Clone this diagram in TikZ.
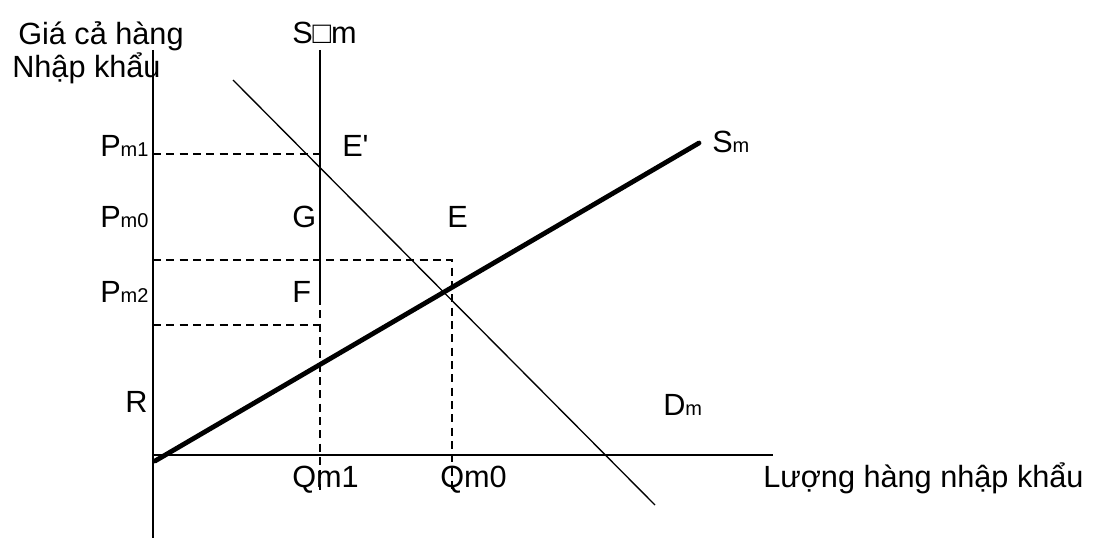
\documentclass[tikz,border=0pt]{standalone}
\usepackage{fontspec}
\setmainfont{Liberation Sans}
\newfontfamily\plainf{Liberation Sans}
\begin{document}
\begin{tikzpicture}[x=0.75pt,y=-0.75pt,
  axis/.style={line width=1.5pt},
  guide/.style={line width=1.4pt, dash pattern=on 6pt off 4pt},
  demand/.style={line width=1pt},
  supply/.style={line width=3.6pt, line cap=round},
  lbl/.style={inner sep=0pt, anchor=base west, font=\plainf\fontsize{23}{27}\selectfont}]
\newcommand{\sbs}[1]{{\fontsize{15}{17}\selectfont #1}}
\useasboundingbox (0,0) rectangle (1105,538);
% coordinates
\coordinate (ytop) at (153,50);
\coordinate (ybot) at (153,538);
\coordinate (xst) at (153,455);
\coordinate (xend) at (773,455);
\coordinate (svtop) at (320,50);
\coordinate (svF) at (320,297);
\coordinate (svbot) at (320,490);
\coordinate (p1a) at (153,154);
\coordinate (p1b) at (320,154);
\coordinate (p0a) at (153,260);
\coordinate (p0b) at (452,260);
\coordinate (q0b) at (452,493);
\coordinate (p2a) at (153,325);
\coordinate (p2b) at (320,325);
\coordinate (sma) at (155,461);
\coordinate (smb) at (699,143);
\coordinate (dma) at (233,80);
\coordinate (dmb) at (655,505);
% axes
\draw[axis] (ytop) -- (ybot);
\draw[axis] (xst) -- (xend);
% guides
\draw[guide] (p1a) -- (p1b);
\draw[guide] (p0a) -- (p0b) -- (q0b);
\draw[guide] (p2a) -- (p2b);
\draw[guide] (svF) -- (svbot);
% S'm vertical
\draw[axis] (svtop) -- (svF);
% demand
\draw[demand] (dma) -- (dmb);
% supply
\draw[supply] (sma) -- (smb);
% labels
\node[lbl] (ylab1) at (18,45) {Giá cả hàng};
\node[lbl] (ylab2) at (12,78) {Nhập khẩu};
\node[lbl] (svlab) at (292,44) {S□m};
\node[lbl] (pm1) at (100,157) {P\sbs{m1}};
\node[lbl] (Ep) at (342,157) {E'};
\node[lbl] (pm0) at (100,228) {P\sbs{m0}};
\node[lbl] (G) at (292,228) {G};
\node[lbl] (E) at (447,228) {E};
\node[lbl] (pm2) at (100,302) {P\sbs{m2}};
\node[lbl] (F) at (292,302) {F};
\node[lbl] (R) at (125,412) {R};
\node[lbl] (qm1) at (292,487) {Qm1};
\node[lbl] (qm0) at (440,487) {Qm0};
\node[lbl] (smlab) at (712,153) {S\sbs{m}};
\node[lbl] (dmlab) at (663,415) {D\sbs{m}};
\node[lbl] (xlab) at (763,487) {Lượng hàng nhập khẩu};
\end{tikzpicture}
\end{document}
